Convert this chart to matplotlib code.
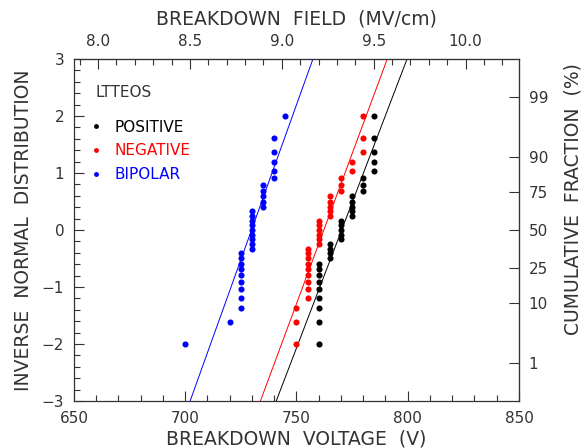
import matplotlib
matplotlib.use('Agg')
import matplotlib.pyplot as plt
import numpy as np
from matplotlib.lines import Line2D
from matplotlib.ticker import MultipleLocator, FormatStrFormatter
from statistics import NormalDist

# breakdown voltages (V), sorted, one entry per device
positive_v = [760, 760, 760, 760, 760, 760, 760, 760, 760,
              765, 765, 765, 765,
              770, 770, 770, 770, 770,
              775, 775, 775, 775, 775,
              780, 780, 780,
              785, 785, 785, 785, 785]
negative_v = [750, 750, 750,
              755, 755, 755, 755, 755, 755, 755, 755, 755,
              760, 760, 760, 760, 760, 760,
              765, 765, 765, 765, 765,
              770, 770, 770,
              775, 775,
              780, 780, 780]
bipolar_v = [700, 720,
             725, 725, 725, 725, 725, 725, 725, 725, 725,
             730, 730, 730, 730, 730, 730, 730, 730, 730,
             735, 735, 735, 735, 735,
             740, 740, 740, 740, 740,
             745]

series_names = ['POSITIVE', 'NEGATIVE', 'BIPOLAR']
series_colors = ['black', 'red', 'blue']
series_data = [positive_v, negative_v, bipolar_v]

# normal fits: voltage at 50% and volts per standard deviation
fit_center = [770.3, 762.3, 729.8]
fit_sigma = [9.8, 9.5, 9.2]

# oxide thickness factor: V per MV/cm
v_per_field = 82.6

cum_percent = [1, 10, 25, 50, 75, 90, 99]

text_color = '#333333'
plt.rcParams['font.family'] = 'DejaVu Sans'
plt.rcParams['text.color'] = text_color
plt.rcParams['axes.labelcolor'] = text_color
plt.rcParams['xtick.color'] = text_color
plt.rcParams['ytick.color'] = text_color
plt.rcParams['axes.edgecolor'] = '#333333'


def rank_quantiles(n):
    """median-rank plotting positions converted to normal quantiles"""
    nd = NormalDist()
    return np.array([nd.inv_cdf((i - 0.3) / (n + 0.4)) for i in range(1, n + 1)])


fig = plt.figure(figsize=(5.82, 4.48), dpi=100)
axis1 = fig.add_axes([0.1271, 0.1049, 0.7646, 0.7634])

zline = np.array([-3.0, 3.0])
for volts, color, center, sigma in zip(series_data, series_colors, fit_center, fit_sigma):
    zq = rank_quantiles(len(volts))
    axis1.plot(volts, zq, ls='none', marker='o', ms=4.4, color=color, mew=0)
    axis1.plot(center + sigma * zline, zline, color=color, lw=0.7)

axis1.set_xlim(650, 850)
axis1.set_ylim(-3, 3)
axis1.xaxis.set_major_locator(MultipleLocator(50))
axis1.xaxis.set_minor_locator(MultipleLocator(10))
axis1.yaxis.set_major_locator(MultipleLocator(1))
axis1.yaxis.set_minor_locator(MultipleLocator(0.2))
axis1.tick_params(which='both', direction='in', top=False, right=False, labelsize=11)
axis1.tick_params(which='major', length=7.5, width=0.8, pad=7)
axis1.tick_params(which='minor', length=4.5, width=0.8)
for sp in axis1.spines.values():
    sp.set_linewidth(0.9)
axis1.set_xlabel('BREAKDOWN  VOLTAGE  (V)', fontsize=13.5, labelpad=3)
axis1.set_ylabel('INVERSE  NORMAL  DISTRIBUTION', fontsize=13.5, labelpad=6)

topax = axis1.secondary_xaxis('top', functions=(lambda v: v / v_per_field,
                                                lambda e: e * v_per_field))
topax.xaxis.set_major_locator(MultipleLocator(0.5))
topax.xaxis.set_minor_locator(MultipleLocator(0.1))
topax.xaxis.set_major_formatter(FormatStrFormatter('%.1f'))
topax.tick_params(which='both', direction='in', labelsize=11)
topax.tick_params(which='major', length=7.5, width=0.8, pad=7)
topax.tick_params(which='minor', length=4.5, width=0.8)
topax.set_xlabel('BREAKDOWN  FIELD  (MV/cm)', fontsize=13.5, labelpad=7)

nd = NormalDist()
rightax = axis1.secondary_yaxis('right')
rightax.set_yticks([nd.inv_cdf(p / 100.0) for p in cum_percent],
                   labels=[str(p) for p in cum_percent])
rightax.tick_params(direction='in', length=7, width=0.8, pad=7, labelsize=11)
rightax.set_ylabel('CUMULATIVE  FRACTION  (%)', fontsize=13.5)
rightax.yaxis.set_label_coords(1.100, 0.59, transform=axis1.transAxes)

axis1.text(0.049, 0.902, 'LTTEOS', transform=axis1.transAxes, fontsize=11,
           va='center', ha='left')
handles = [Line2D([], [], ls='none', marker='o', ms=3.5, mew=0, color=c)
           for c in series_colors]
axis1.legend(handles, series_names, loc='upper left', bbox_to_anchor=(0.041, 0.823),
             frameon=False, fontsize=11, labelcolor=series_colors,
             handlelength=0.5, handletextpad=0.93, labelspacing=0.57,
             borderpad=0, borderaxespad=0)

fig.savefig('out.png', dpi=100)
